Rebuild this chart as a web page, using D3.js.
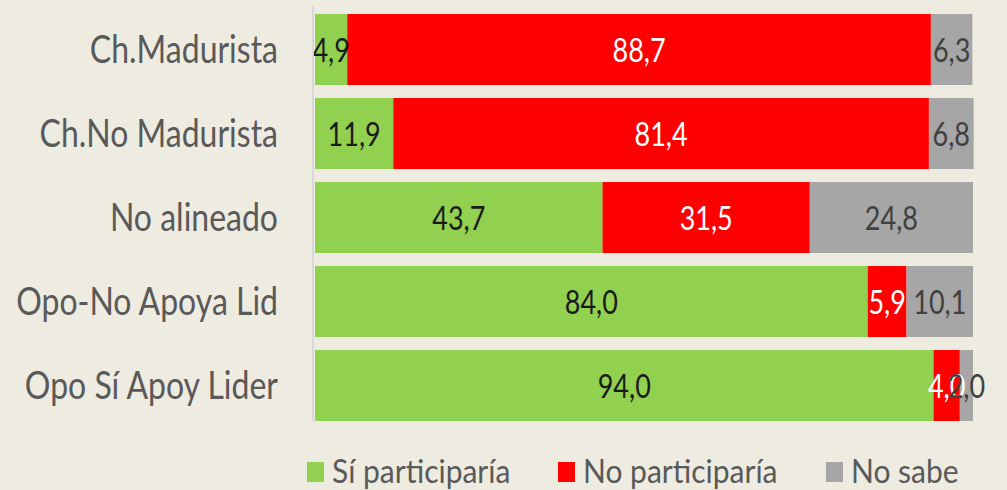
<!DOCTYPE html>
<html>
<head>
<meta charset="utf-8">
<script src="https://cdn.jsdelivr.net/npm/d3@7"></script>
<style>
  body { margin: 0; background: #eeebe0; }
  svg { display: block; }
</style>
</head>
<body>
<script>
// data
var categories = ["Ch.Madurista", "Ch.No Madurista", "No alineado", "Opo-No Apoya Lid", "Opo Sí Apoy Lider"];
var si_participaria = [4.9, 11.9, 43.7, 84.0, 94.0];
var no_participaria = [88.7, 81.4, 31.5, 5.9, 4.0];
var no_sabe = [6.3, 6.8, 24.8, 10.1, 2.0];
var series_names = ["Sí participaría", "No participaría", "No sabe"];

var w = 1007, h = 490;
var bkg_color = "#eeebe0";
var series_colors = ["#92d050", "#ff0000", "#a6a6a6"];
var label_colors = ["#1a1a1a", "#ffffff", "#404040"];
var font = "Lato, 'Open Sans', sans-serif";

var svg = d3.select("body").append("svg")
  .attr("width", w).attr("height", h);

svg.append("rect").attr("width", w).attr("height", h).style("fill", bkg_color);

var x = d3.scaleLinear().domain([0, 100]).range([315, 973]);
var y = d3.scaleBand().domain(categories).range([7.5, 427.5])
  .paddingInner(0.155).paddingOuter(0.0775);

// stacked rows
var rows = categories.map(function(c, i){
  return {cat: c, vals: [si_participaria[i], no_participaria[i], no_sabe[i]]};
});

// text in the picture looks tall and narrow, so stretch it vertically
var place_text = function(txt, px, py, size, stretch, color, anchor){
  svg.append("text")
    .attr("transform", "translate(" + px + "," + py + ") scale(1," + stretch + ")")
    .attr("font-family", font)
    .attr("font-size", size)
    .attr("text-anchor", anchor)
    .attr("fill", color)
    .text(txt);
};

var fmt = function(v){ return v.toFixed(1).replace(".", ","); };

rows.forEach(function(r){
  var start = 0;
  r.vals.forEach(function(v, k){
    svg.append("rect")
      .attr("x", x(start))
      .attr("y", y(r.cat))
      .attr("width", x(start + v) - x(start))
      .attr("height", y.bandwidth())
      .style("fill", series_colors[k]);
    start += v;
  });
});

// labels drawn after all bars so they sit on top
rows.forEach(function(r){
  var start = 0;
  var cy = y(r.cat) + y.bandwidth()/2 + 12;
  r.vals.forEach(function(v, k){
    place_text(fmt(v), (x(start) + x(start + v))/2, cy, 27, 1.18, label_colors[k], "middle");
    start += v;
  });
  place_text(r.cat, 278, cy + 1, 32, 1.18, "#595959", "end");
});

// axis line
svg.append("line")
  .attr("x1", 313).attr("x2", 313)
  .attr("y1", 6).attr("y2", y.range()[1] - 6)
  .style("stroke", "#d9d9d9").style("stroke-width", 2);

// legend
var legend_x = [307, 558, 826];
series_names.forEach(function(s, k){
  svg.append("rect")
    .attr("x", legend_x[k]).attr("y", 462)
    .attr("width", 17).attr("height", 20)
    .style("fill", series_colors[k]);
  place_text(s, legend_x[k] + 25, 483, 30, 1.08, "#595959", "start");
});
</script>
</body>
</html>
